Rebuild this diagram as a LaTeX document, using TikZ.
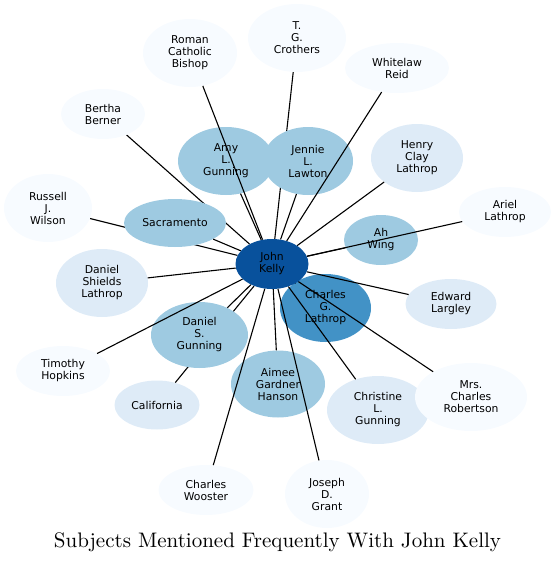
\documentclass[tikz,border=0pt]{standalone}
\usepackage{fontspec}
\newfontfamily\labelfont{DejaVu Sans}
\newfontfamily\titlefont{lmroman10-regular}[Extension=.otf]
\usepackage{xcolor}
\usetikzlibrary{shapes.geometric}
\definecolor{bluedark}{HTML}{08519C}
\definecolor{bluemid}{HTML}{4292C6}
\definecolor{bluelight}{HTML}{9ECAE1}
\definecolor{bluepale}{HTML}{DEEBF7}
\definecolor{bluefaint}{HTML}{F7FBFF}
\pgfdeclarelayer{background}
\pgfdeclarelayer{front}
\pgfsetlayers{background,main,front}

\begin{document}
\begin{tikzpicture}[x=1pt, y=-1pt,
  subject/.style={ellipse, inner sep=0pt, align=center,
    font=\labelfont\fontsize{10.8}{12}\selectfont},
  tall/.style={minimum height=68pt},
  flat/.style={minimum height=50pt},
  link/.style={line width=1.1pt}]
\useasboundingbox (0,0) rectangle (555,563);

\begin{pgfonlayer}{front}
\node[subject, fill=bluedark, minimum width=73pt, flat] (kelly) at (272,264) {John\\Kelly};
\end{pgfonlayer}

\node[subject, fill=bluefaint, minimum width=94pt, tall] (roman) at (190,53) {Roman\\Catholic\\Bishop};
\node[subject, fill=bluefaint, minimum width=98pt, tall] (crothers) at (297,38) {T.\\G.\\Crothers};
\node[subject, fill=bluefaint, minimum width=104pt, flat] (whitelaw) at (397,68) {Whitelaw\\Reid};
\node[subject, fill=bluefaint, minimum width=84pt, flat] (bertha) at (103,114) {Bertha\\Berner};
\node[subject, fill=bluelight, minimum width=96pt, tall] (amy) at (226,161) {Amy\\L.\\Gunning};
\node[subject, fill=bluelight, minimum width=90pt, tall] (jennie) at (308,161) {Jennie\\L.\\Lawton};
\node[subject, fill=bluepale, minimum width=92pt, tall] (henry) at (417,158) {Henry\\Clay\\Lathrop};
\node[subject, fill=bluefaint, minimum width=88pt, tall] (russell) at (48,208) {Russell\\J.\\Wilson};
\node[subject, fill=bluelight, minimum width=102pt, minimum height=48pt] (sacramento) at (175,223) {Sacramento};
\node[subject, fill=bluefaint, minimum width=92pt, flat] (ariel) at (505,212) {Ariel\\Lathrop};
\node[subject, fill=bluelight, minimum width=74pt, flat] (ahwing) at (381,240) {Ah\\Wing};
\node[subject, fill=bluepale, minimum width=92pt, tall] (shields) at (102,283) {Daniel\\Shields\\Lathrop};
\node[subject, fill=bluepale, minimum width=91pt, flat] (edward) at (451,304) {Edward\\Largley};
\node[subject, fill=bluemid, minimum width=91pt, tall] (charlesg) at (325.5,308) {Charles\\G.\\Lathrop};
\node[subject, fill=bluefaint, minimum width=94pt, flat] (timothy) at (63,371) {Timothy\\Hopkins};
\node[subject, fill=bluelight, minimum width=97pt, minimum height=66pt] (daniels) at (199.5,335) {Daniel\\S.\\Gunning};
\node[subject, fill=bluepale, minimum width=85pt, minimum height=49pt] (california) at (157,405) {California};
\node[subject, fill=bluelight, minimum width=94pt, minimum height=67pt] (aimee) at (278,384) {Aimee\\Gardner\\Hanson};
\node[subject, fill=bluepale, minimum width=102pt, tall] (christine) at (378,410) {Christine\\L.\\Gunning};
\node[subject, fill=bluefaint, minimum width=112pt, tall] (robertson) at (471,397) {Mrs.\\Charles\\Robertson};
\node[subject, fill=bluefaint, minimum width=95pt, flat] (wooster) at (206,490) {Charles\\Wooster};
\node[subject, fill=bluefaint, minimum width=84pt, tall] (joseph) at (327,494) {Joseph\\D.\\Grant};

% links hidden behind other subjects
\begin{pgfonlayer}{background}
\draw[link] (kelly) -- (russell);
\draw[link] (kelly) -- (bertha);
\draw[link] (kelly) -- (crothers);
\draw[link] (kelly) -- (california);
\end{pgfonlayer}

\draw[link] (kelly) -- (roman);
\draw[link] (kelly) -- (whitelaw);
\draw[link] (kelly) -- (amy);
\draw[link] (kelly) -- (jennie);
\draw[link] (kelly) -- (henry);
\draw[link] (kelly) -- (sacramento);
\draw[link] (kelly) -- (ariel);
\draw[link] (kelly) -- (ahwing);
\draw[link] (kelly) -- (shields);
\draw[link] (kelly) -- (edward);
\draw[link] (kelly) -- (charlesg);
\draw[link] (kelly) -- (timothy);
\draw[link] (kelly) -- (daniels);
\draw[link] (kelly) -- (aimee);
\draw[link] (kelly) -- (christine);
\draw[link] (kelly) -- (robertson);
\draw[link] (kelly) -- (wooster);
\draw[link] (kelly) -- (joseph);

\node[anchor=base, font=\titlefont\fontsize{21}{25}\selectfont] (title) at (277.5,547.5) {Subjects Mentioned Frequently With John Kelly};
\end{tikzpicture}
\end{document}
